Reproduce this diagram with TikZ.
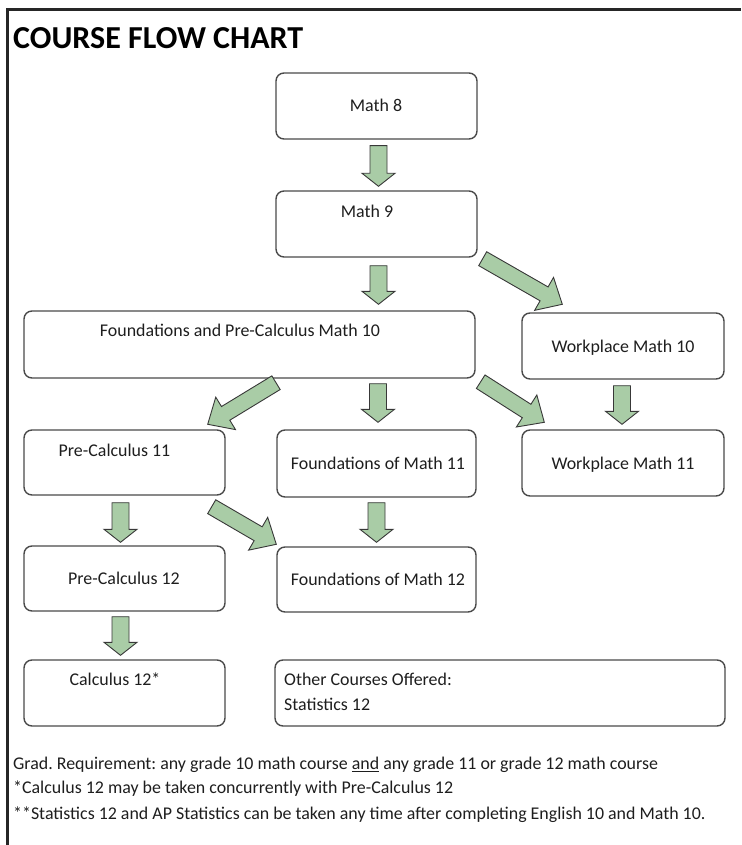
\documentclass[tikz,border=0pt]{standalone}
\usepackage{fontspec}
\setmainfont{Carlito}
\usetikzlibrary{calc}
\frenchspacing
\definecolor{arrfill}{HTML}{A9CCA6}
\definecolor{arrline}{HTML}{383838}
\definecolor{boxline}{HTML}{4A4A4A}
\definecolor{txt}{HTML}{1E1E1E}
\tikzset{
  box/.style={draw=boxline, line width=1.4pt, rounded corners=8pt, fill=white, inner sep=0pt},
  arrowstyle/.style={fill=arrfill, draw=arrline, line width=0.9pt, line join=miter},
  lbl/.style={text=txt, font=\fontsize{17.9}{19}\selectfont, inner sep=0pt, text height=11.5pt, text depth=0pt},
  foot/.style={lbl, anchor=west},
}
\newcommand{\barrow}[5]{%
  \coordinate (bs) at #1;
  \coordinate (be) at #2;
  \coordinate (bn) at ($(be)!#5!(bs)$);
  \filldraw[arrowstyle] ($(bs)!#3!90:(be)$) -- ($(bn)!#3!90:(be)$) -- ($(bn)!#4!90:(be)$) -- (be)
     -- ($(bn)!#4!-90:(be)$) -- ($(bn)!#3!-90:(be)$) -- ($(bs)!#3!-90:(be)$) -- cycle;}
\begin{document}
\begin{tikzpicture}[x=1pt, y=-1pt]
\useasboundingbox (0,0) rectangle (741,845);
\fill[white] (0,0) rectangle (741,845);
% page frame
\draw[line width=3pt, draw=black!85] (7.5,845) -- (7.5,9.5) -- (741,9.5);
% title
\node[anchor=west, inner sep=0pt, text=black, font=\fontsize{32}{34}\selectfont\bfseries, text height=20.6pt, text depth=0pt] (title) at (13,38) {COURSE FLOW CHART};
% boxes
\node[box, minimum width=201pt, minimum height=66pt] (m8) at (376.5,106) {};
\node[box, minimum width=201pt, minimum height=66pt] (m9) at (376.5,224) {};
\node[box, minimum width=451pt, minimum height=67pt] (fp10) at (249.5,344.5) {};
\node[box, minimum width=202pt, minimum height=66pt] (wp10) at (623,346) {};
\node[box, minimum width=201pt, minimum height=65pt] (pc11) at (124.5,462.5) {};
\node[box, minimum width=199pt, minimum height=67pt] (fm11) at (376.5,463.5) {};
\node[box, minimum width=202pt, minimum height=66pt] (wp11) at (623,463) {};
\node[box, minimum width=201pt, minimum height=65pt] (pc12) at (124.5,578.5) {};
\node[box, minimum width=199pt, minimum height=65pt] (fm12) at (376.5,579.5) {};
\node[box, minimum width=201pt, minimum height=66pt] (c12) at (124.5,693) {};
\node[box, minimum width=450pt, minimum height=66pt] (oth) at (500,693) {};
% labels
\node[lbl] (t8) at (376,106) {Math 8};
\node[lbl] (t9) at (367,212) {Math 9};
\node[lbl] (tfp10) at (240,331) {Foundations and Pre-Calculus Math 10};
\node[lbl] (twp10) at (623,347) {Workplace Math 10};
\node[lbl] (tpc11) at (114.5,451) {Pre-Calculus 11};
\node[lbl] (tfm11) at (378,464) {Foundations of Math 11};
\node[lbl] (twp11) at (623,464) {Workplace Math 11};
\node[lbl] (tpc12) at (124,579) {Pre-Calculus 12};
\node[lbl] (tfm12) at (378,580) {Foundations of Math 12};
\node[lbl] (tc12) at (115,680) {Calculus 12*};
\node[foot] (toth1) at (284,680) {Other Courses Offered:};
\node[foot] (toth2) at (284,705) {Statistics 12};
% arrows
\barrow{($(m8.south)+(2,6)$)}{($(m9.north)+(2,-4)$)}{8.5pt}{16.5pt}{13pt}
\barrow{($(m9.south)+(2,8)$)}{($(m9.south |- fp10.north)+(2,-6)$)}{8.5pt}{16.5pt}{13pt}
\barrow{($(m9.south east)+(5,1)$)}{($(wp10.north west)+(41,-8)$)}{8pt}{19pt}{21pt}
\barrow{($(fp10.south)+(26.5,4)$)}{($(pc11.north east)+(-18,-5)$)}{8pt}{19pt}{21pt}
\barrow{($(fm11.north |- fp10.south)+(1.5,5)$)}{($(fm11.north)+(1.5,-7)$)}{8.5pt}{16.5pt}{13pt}
\barrow{($(fp10.south east)+(5,3)$)}{($(wp11.north west)+(23,-7)$)}{8pt}{19pt}{21pt}
\barrow{($(wp10.south)+(-1,6)$)}{($(wp11.north)+(-1,-5)$)}{8.5pt}{16.5pt}{13pt}
\barrow{($(pc11.south)+(-4,7)$)}{($(pc12.north)+(-4,-3)$)}{8.5pt}{16.5pt}{13pt}
\barrow{($(pc11.south east)+(-14,11)$)}{($(fm12.north west)+(0,-2)$)}{8pt}{19pt}{21pt}
\barrow{($(fm11.south)+(0,5)$)}{($(fm12.north)+(0,-4)$)}{8.5pt}{16.5pt}{13pt}
\barrow{($(pc12.south)+(-4,5)$)}{($(c12.north)+(-4,-4)$)}{8.5pt}{16.5pt}{13pt}
% footnotes
\node[foot] (f1) at (13,764) {Grad. Requirement: any grade 10 math course \underline{and} any grade 11 or grade 12 math course};
\node[foot] (f2) at (13,788) {*Calculus 12 may be taken concurrently with Pre-Calculus 12};
\node[foot] (f3) at (13,814) {**Statistics 12 and AP Statistics can be taken any time after completing English 10 and Math 10.};
\end{tikzpicture}
\end{document}
